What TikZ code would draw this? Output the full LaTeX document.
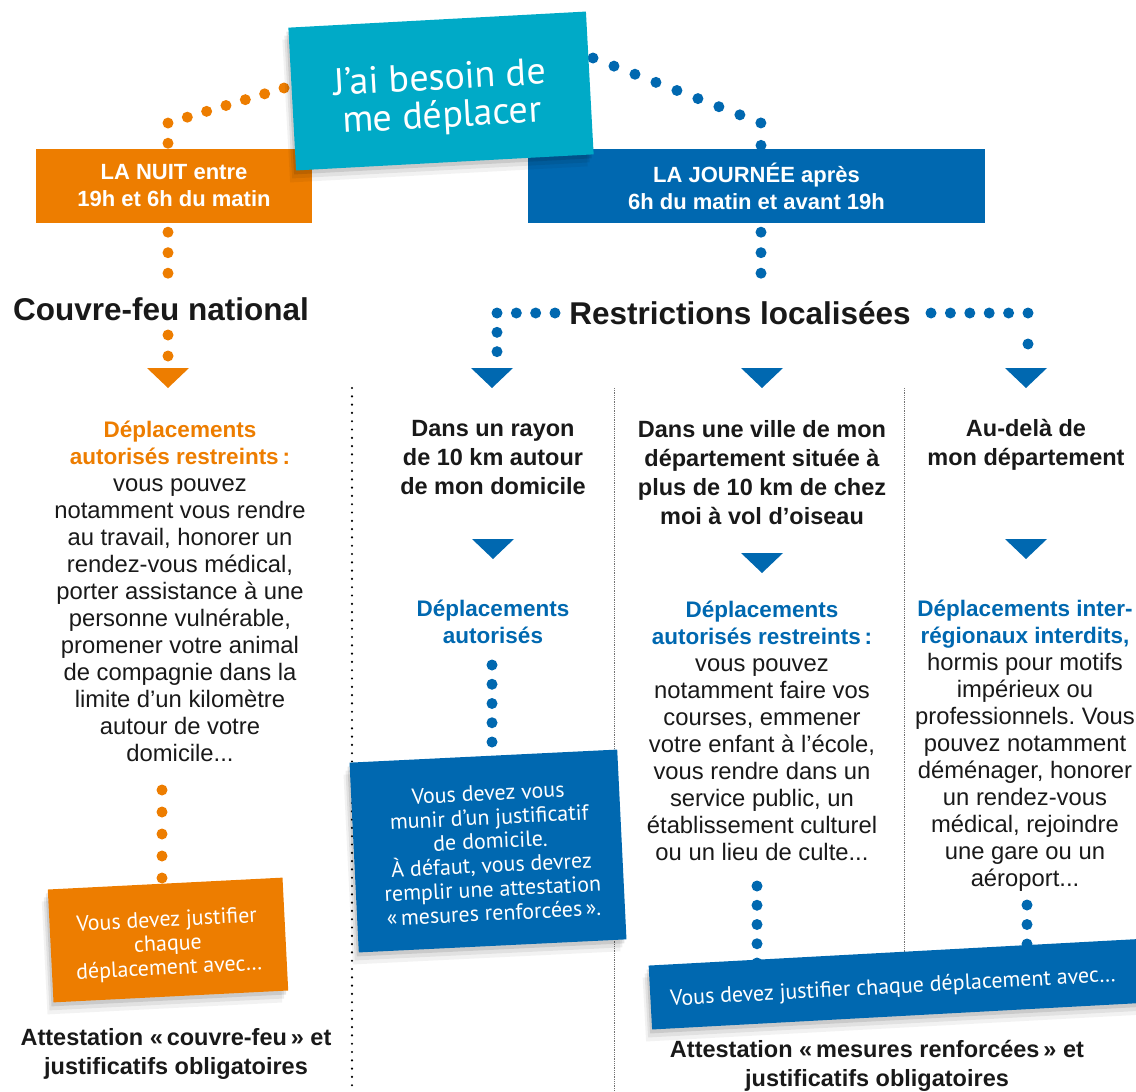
\documentclass[tikz,border=0pt]{standalone}
\usepackage{fontspec}
\setmainfont{Liberation Sans}
\newfontfamily\boxfont{PT Sans}
\usetikzlibrary{shadows}
\definecolor{orangeC}{RGB}{237,125,0}
\definecolor{blueC}{RGB}{0,104,176}
\definecolor{cyanC}{RGB}{0,170,199}
\definecolor{ink}{RGB}{25,25,25}
\pgfdeclarelayer{bg}
\pgfsetlayers{bg,main}
\newcommand{\hlblue}[1]{{\color{blueC}\bfseries\fontsize{22.5}{27}\selectfont #1}}
\newcommand{\hlorange}[1]{{\color{orangeC}\bfseries\fontsize{22.5}{27}\selectfont #1}}
\frenchspacing
\begin{document}
\frenchspacing
\begin{tikzpicture}[x=1pt,y=-1pt,
  txt/.style={inner sep=0pt, align=center, text=ink},
  big/.style={txt, font=\bfseries\fontsize{31.5}{36}\selectfont},
  head/.style={txt, font=\bfseries\fontsize{23.5}{29}\selectfont},
  body/.style={txt, font=\frenchspacing\fontsize{23.8}{27}\selectfont},
  hdr/.style={inner sep=0pt, align=center, text=white, font=\bfseries\fontsize{22}{27}\selectfont},
  card/.style={inner sep=0pt,
    general shadow={fill=black, opacity=0.10, shadow xshift=-2pt, shadow yshift=-4pt},
    general shadow={fill=black, opacity=0.07, shadow xshift=-4pt, shadow yshift=-8pt},
    general shadow={fill=black, opacity=0.05, shadow xshift=-6pt, shadow yshift=-12pt}},
  cardtext/.style={inner sep=0pt, align=center, text=white},
  odots/.style={draw=orangeC, line width=11pt, line cap=round},
  bdots/.style={draw=blueC, line width=11pt, line cap=round},
  sepblack/.style={draw=black, line width=2.4pt, line cap=round, dash pattern=on 0pt off 8.3pt},
  sepgray/.style={draw=black!55, line width=0.9pt, dash pattern=on 0.9pt off 0.9pt},
  tri/.pic={\fill (-21,-10) -- (21,-10) -- (0,10) -- cycle;}
]
\useasboundingbox (0,0) rectangle (1136,1092);

% header boxes
\node[hdr, fill=orangeC, minimum width=276pt, minimum height=74pt] (night) at (174,186) {LA NUIT entre\\19h et 6h du matin};
\node[hdr, fill=blueC, minimum width=457pt, minimum height=74pt] (day) at (756.5,186) {LA JOURNÉE après\\6h du matin et avant 19h};

% top card
\node[card, fill=cyanC, rotate=3.1, minimum width=298pt, minimum height=143pt] (need) at (441,91) {};
\node[cardtext, rotate=3.1, font=\boxfont\fontsize{38}{38}\selectfont] (needtxt) at (441,99) {J’ai besoin de\\me déplacer};

% titles
\node[big] (couvre) at (161,309) {Couvre-feu national};
\node[big] (restr) at (740,313) {Restrictions localisées};

% left column
\node[body] (nightdet) at (180,591) {\hlorange{Déplacements}\\\hlorange{autorisés restreints\,:}\\vous pouvez\\notamment vous rendre\\au travail, honorer un\\rendez-vous médical,\\porter assistance à une\\personne vulnérable,\\promener votre animal\\de compagnie dans la\\limite d’un kilomètre\\autour de votre\\domicile...};
\node[card, fill=orangeC, rotate=2.9, minimum width=235pt, minimum height=113pt] (justN) at (168,940) {};
\node[cardtext, rotate=2.9, font=\boxfont\fontsize{22}{24}\selectfont] (justNtxt) at (168,945) {Vous devez justifier\\chaque\\déplacement avec…};
\node[head] (attN) at (176,1054) {Attestation «\,couvre-feu\,» et\\justificatifs obligatoires};

% column 1
\node[head] (c1h) at (493,458) {Dans un rayon\\de 10 km autour\\de mon domicile};
\node[txt, text=blueC, font=\bfseries\fontsize{22.5}{27}\selectfont] (c1d) at (493,622) {Déplacements\\autorisés};
\node[card, fill=blueC, rotate=2.8, minimum width=268pt, minimum height=190pt] (c1card) at (488,851) {};
\node[cardtext, rotate=2.8, font=\boxfont\fontsize{22}{24}\selectfont] (c1cardtxt) at (491,853) {Vous devez vous\\munir d’un justificatif\\de domicile.\\À défaut, vous devrez\\remplir une attestation\\«\,mesures renforcées\,».};

% column 2
\node[head] (c2h) at (762,472.5) {Dans une ville de mon\\département située à\\plus de 10 km de chez\\moi à vol d’oiseau};
\node[body] (c2d) at (762,730.5) {\hlblue{Déplacements}\\\hlblue{autorisés restreints\,:}\\vous pouvez\\notamment faire vos\\courses, emmener\\votre enfant à l’école,\\vous rendre dans un\\service public, un\\établissement culturel\\ou un lieu de culte...};

% column 3
\node[head] (c3h) at (1026,445) {Au-delà de\\mon département};
\node[body] (c3d) at (1025,745.5) {\hlblue{Déplacements inter-}\\\hlblue{régionaux interdits,}\\hormis pour motifs\\impérieux ou\\professionnels. Vous\\pouvez notamment\\déménager, honorer\\un rendez-vous\\médical, rejoindre\\une gare ou un\\aéroport...};

% bottom right
\node[card, fill=blueC, rotate=3.1, minimum width=500pt, minimum height=64pt] (dayCard) at (900,984) {};
\node[cardtext, rotate=3.1, font=\boxfont\fontsize{22}{24}\selectfont] (dayCardtxt) at (893,988) {Vous devez justifier chaque déplacement avec…};
\node[head] (attD) at (877,1066) {Attestation «\,mesures renforcées\,» et\\justificatifs obligatoires};

% triangles
\pic[orangeC] at (168,378) {tri};
\pic[blueC] at (492,378) {tri};
\pic[blueC] at (762,378) {tri};
\pic[blueC] at (1026,378) {tri};
\pic[blueC] at (493,549) {tri};
\pic[blueC] at (762,563) {tri};
\pic[blueC] at (1026,549) {tri};

\begin{pgfonlayer}{bg}
  \draw[sepblack] (352,388) -- (352,1092);
  \draw[sepgray] (614,388) -- (614,1092);
  \draw[sepgray] (904,388) -- (904,960);

  \coordinate (oa) at (284,88);
  \coordinate (ob) at (168,123);
  \draw[odots, dash pattern=on 0pt off 20.2pt] (oa) -- (ob) -- (night.north -| ob);
  \coordinate (oc) at (168,274);
  \draw[odots, dash pattern=on 0pt off 20.5pt, dash phase=11.5pt] (night.south -| oc) -- (oc);
  \coordinate (od) at (168,335);
  \coordinate (oe) at (168,356.5);
  \draw[odots, dash pattern=on 0pt off 21pt] (od) -- (oe);
  \coordinate (of) at (162,790);
  \draw[odots, dash pattern=on 0pt off 22pt] (of) -- (162,878.5);

  \coordinate (ba) at (593,58);
  \coordinate (bb) at (761,123);
  \draw[bdots, dash pattern=on 0pt off 22.5pt] (ba) -- (bb) -- (day.north -| bb);
  \coordinate (bc) at (761,274);
  \draw[bdots, dash pattern=on 0pt off 20.5pt, dash phase=11.5pt] (day.south -| bc) -- (bc);
  \coordinate (bd) at (555,313);
  \coordinate (be) at (497,313);
  \coordinate (bf) at (497,352);
  \draw[bdots, dash pattern=on 0pt off 19.33pt] (bd) -- (be) -- (bf);
  \coordinate (bg1) at (931,313);
  \coordinate (bh) at (1028,313.01);
  \draw[bdots, dash pattern=on 0pt off 19.4pt] (bg1) -- (bh);
  \coordinate (bi) at (1028,344);
  \fill[blueC] (bi) circle (5.5pt);
  \coordinate (bj) at (492,665);
  \draw[bdots, dash pattern=on 0pt off 19.25pt] (bj) -- (492,742.5);
  \coordinate (bk) at (757,886);
  \draw[bdots, dash pattern=on 0pt off 19.25pt] (bk) -- (757,963.5);
  \coordinate (bl) at (1027,905);
  \draw[bdots, dash pattern=on 0pt off 19.5pt] (bl) -- (1027,944.5);
\end{pgfonlayer}
\end{tikzpicture}
\end{document}
